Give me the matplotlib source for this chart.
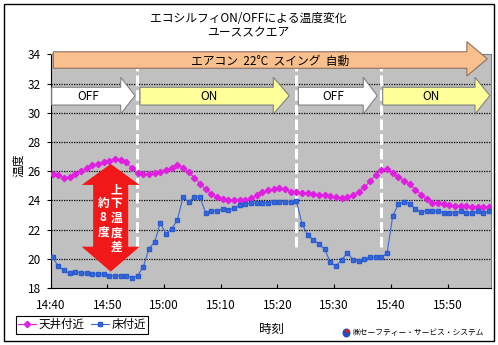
import numpy as np
import matplotlib
matplotlib.use('Agg')
import matplotlib.pyplot as plt
from matplotlib.patches import Polygon, Rectangle, Ellipse

plt.rcParams['font.family'] = ['Noto Sans CJK JP', 'DejaVu Sans']

# logger samples, one per minute starting 14:40:20
minutes = (np.arange(78) * 60 + 20) / 60.0

ceiling = [25.8, 25.75, 25.55, 25.6, 25.8, 26.0, 26.2, 26.4, 26.5, 26.6,
           26.7, 26.85, 26.8, 26.6, 26.2, 25.9, 25.8, 25.8, 25.85, 25.95,
           26.1, 26.25, 26.45, 26.25, 25.95, 25.55, 25.15, 24.75, 24.45, 24.25,
           24.1, 24.0, 24.0, 24.0, 24.0, 24.15, 24.35, 24.55, 24.7, 24.75,
           24.85, 24.75, 24.6, 24.55, 24.5, 24.5, 24.45, 24.4, 24.35, 24.3,
           24.2, 24.15, 24.2, 24.35, 24.6, 24.9, 25.3, 25.75, 26.1, 26.15,
           25.85, 25.6, 25.35, 25.1, 24.7, 24.4, 24.1, 23.85, 23.8, 23.75,
           23.7, 23.65, 23.65, 23.65, 23.55, 23.55, 23.55, 23.55]

floor = [20.1, 19.5, 19.2, 19.0, 19.1, 19.05, 19.0, 18.95, 18.95, 18.95,
         18.85, 18.85, 18.85, 18.85, 18.7, 18.85, 19.45, 20.7, 21.15, 22.45,
         21.7, 22.05, 22.65, 24.2, 23.9, 24.25, 24.2, 23.15, 23.3, 23.3,
         23.4, 23.35, 23.45, 23.7, 23.75, 23.8, 23.85, 23.85, 23.85, 23.9,
         23.9, 23.9, 23.9, 23.95, 22.4, 21.6, 21.3, 21.0, 20.65, 19.75,
         19.5, 19.95, 20.4, 19.95, 19.85, 20.0, 20.1, 20.1, 20.1, 20.4,
         22.95, 23.75, 23.9, 23.75, 23.4, 23.2, 23.3, 23.25, 23.25, 23.15,
         23.15, 23.15, 23.25, 23.15, 23.15, 23.25, 23.15, 23.25]

tick_pos = [0, 10, 20, 30, 40, 50, 60, 70]
tick_labels = ['14:40', '14:50', '15:00', '15:10', '15:20', '15:30', '15:40', '15:50']
switch_times = [15.2, 43.2, 58.2]   # ecosilfi switched

# (label, start, head base, tip, fill)
phases = [('OFF', 0.18, 12.35, 14.87, 'white'),
          ('ON', 15.75, 39.26, 42.08, '#FFFF99'),
          ('OFF', 43.67, 55.13, 57.6, 'white'),
          ('ON', 58.55, 74.83, 77.47, '#FFFF99')]


def block_arrow(ax, x0, xb, xt, by0, by1, hy0, hy1, fc, ec='#808080'):
    ym = (hy0 + hy1) / 2
    pts = [(x0, by0), (xb, by0), (xb, hy0), (xt, ym), (xb, hy1), (xb, by1), (x0, by1)]
    ax.add_patch(Polygon(pts, closed=True, fc=fc, ec=ec, lw=0.8,
                         clip_on=False, zorder=6))


fig = plt.figure(figsize=(4.98, 3.45), dpi=100)
ax = fig.add_axes([0.1018, 0.1652, 0.8835, 0.6771])
ax.set_facecolor('#C0C0C0')

for y in range(20, 34, 2):
    ax.axhline(y, color='black', lw=0.9, ls=(0, (1, 1)), zorder=1)

for xs in switch_times:
    ax.plot([xs, xs], [20.8, 33.05], color='white', lw=2.2,
            dashes=(3.5, 1.3), zorder=3)

# red double arrow: about 8 degrees between ceiling and floor
cx, hw, bw = 10.58, 5.11, 3.09
red = [(cx, 26.5), (cx + hw, 25.06), (cx + bw, 25.06), (cx + bw, 20.83),
       (cx + hw, 20.83), (cx, 19.12), (cx - hw, 20.83), (cx - bw, 20.83),
       (cx - bw, 25.06), (cx - hw, 25.06)]
ax.add_patch(Polygon(red, closed=True, fc='#F01818', ec='none', zorder=3))
for ch, yv in zip('上下温度差', [24.71, 23.82, 22.8, 21.77, 20.81]):
    ax.text(11.64, yv, ch, color='white', fontsize=8.5, fontweight='bold',
            ha='center', va='center', zorder=7)
for ch, yv in zip('約8度', [23.82, 22.8, 21.84]):
    ax.text(9.28, yv, ch, color='white', fontsize=8.5, fontweight='bold',
            ha='center', va='center', zorder=7)

l1, = ax.plot(minutes, ceiling, color='#E020E0', lw=0.8, marker='D',
              ms=3.2, mec='#E020E0', zorder=4, label='天井付近')
l2, = ax.plot(minutes, floor, color='#3A6AD8', lw=0.8, marker='s',
              ms=3.4, mec='#2A5AD0', zorder=4, label='床付近')

# aircon arrow
block_arrow(ax, 0.46, 73.4, 77.0, 33.05, 34.18, 32.52, 34.87, '#F9C08E', ec='#8C7060')
ax.text(38.68, 33.55, 'エアコン  22°C  スイング  自動', fontsize=8.5,
        ha='center', va='center', zorder=7)

for lab, x0, xb, xt, fc in phases:
    block_arrow(ax, x0, xb, xt, 30.53, 31.75, 29.92, 32.43, fc)
    ax.text((x0 + xb) / 2 + 0.4, 31.12, lab, fontsize=8.5, ha='center',
            va='center', zorder=7)

ax.set_xlim(0, 77.6)
ax.set_ylim(18, 34)
ax.set_yticks(range(18, 35, 2))
ax.set_xticks(tick_pos)
ax.set_xticklabels(tick_labels)
ax.tick_params(axis='x', direction='in', length=3, labelsize=8.5, pad=8)
ax.tick_params(axis='y', direction='out', length=3, labelsize=8.5, pad=4)
for s in ('top', 'right'):
    ax.spines[s].set_color('#808080')
ax.spines['left'].set_color('black')
ax.spines['bottom'].set_color('black')

fig.text(248 / 498, 1 - 18 / 345, 'エコシルフィON/OFFによる温度変化', fontsize=8.5,
         ha='center', va='center')
fig.text(248 / 498, 1 - 33 / 345, 'ユーススクエア', fontsize=8.5,
         ha='center', va='center')
fig.text(19 / 498, 1 - 165 / 345, '温度', fontsize=8.5, rotation=90,
         ha='center', va='center')
fig.text(271 / 498, 1 - 329 / 345, '時刻', fontsize=9, ha='center', va='center')

leg = fig.legend(handles=[l1, l2], loc='lower left',
                 bbox_to_anchor=(16 / 498, 1 - 333.5 / 345), ncol=2,
                 fontsize=8.3, frameon=True, fancybox=False, framealpha=1,
                 edgecolor='black', borderpad=0.2, handlelength=1.5,
                 handletextpad=0.25, columnspacing=0.6, borderaxespad=0)
leg.get_frame().set_linewidth(0.8)

# company mark
fig.add_artist(Ellipse((346.5 / 498, 1 - 333 / 345), 8 / 498, 9 / 345,
                       transform=fig.transFigure, fc='#2050C0', ec='none'))
fig.add_artist(Ellipse((347.5 / 498, 1 - 331 / 345), 3.5 / 498, 4 / 345,
                       transform=fig.transFigure, fc='#D02020', ec='none'))
fig.text(353 / 498, 1 - 333 / 345, '㈱セーフティー・サービス・システム', fontsize=5.6,
         ha='left', va='center')

fig.add_artist(Rectangle((3.5 / 498, 1 - 340.5 / 345), 490 / 498, 336.5 / 345,
                         transform=fig.transFigure, fill=False,
                         ec='black', lw=1))

fig.savefig('out.png', dpi=100)
